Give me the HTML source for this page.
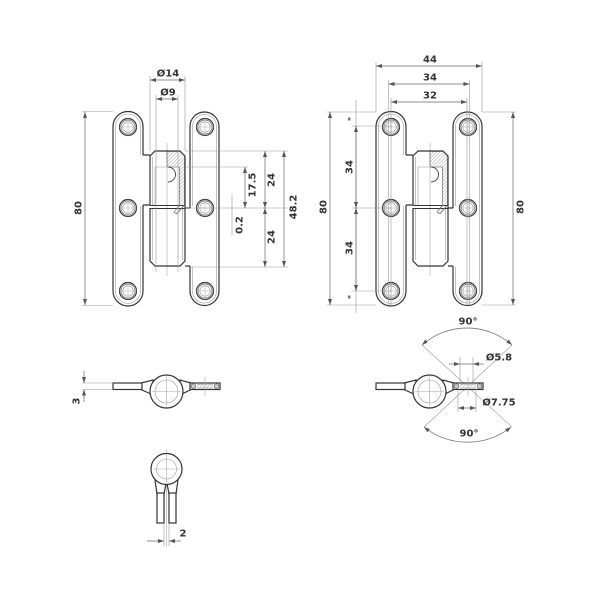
<!DOCTYPE html>
<html><head><meta charset="utf-8"><style>
html,body{margin:0;padding:0;background:#fff;}
svg{display:block;}
text{font-family:"DejaVu Sans","Liberation Sans",sans-serif;font-weight:bold;font-size:10px;fill:#333;}
.o{fill:none;stroke:#333;stroke-width:1.2;}
.ow{fill:#fff;stroke:#333;stroke-width:1.2;}
.i{fill:none;stroke:#999;stroke-width:0.6;}
.c{fill:none;stroke:#aaa;stroke-width:0.6;}
.d{fill:none;stroke:#666;stroke-width:0.7;}
.e{fill:none;stroke:#999;stroke-width:0.6;}
</style></head><body>
<svg width="600" height="600" viewBox="0 0 600 600" xmlns="http://www.w3.org/2000/svg">
<defs>
<marker id="a" viewBox="0 0 6 4" refX="6" refY="2" markerWidth="6" markerHeight="4" markerUnits="userSpaceOnUse" orient="auto-start-reverse"><path d="M0,0 L6,2 L0,4 Z" fill="#555"/></marker>
<pattern id="h" width="2.5" height="2.5" patternUnits="userSpaceOnUse" patternTransform="rotate(45)"><line x1="0" y1="0" x2="0" y2="2.5" stroke="#888" stroke-width="0.8"/></pattern>
<g id="hole">
<circle cx="0" cy="0" r="8.5" fill="#fff" stroke="#333" stroke-width="1.2"/>
<circle cx="0" cy="0" r="7" fill="none" stroke="#666" stroke-width="0.7"/>
<circle cx="0" cy="0" r="5.2" fill="none" stroke="#999" stroke-width="0.6"/>
<line x1="-9" y1="0" x2="9" y2="0" stroke="#aaa" stroke-width="0.5"/>
<line x1="0" y1="-9" x2="0" y2="9" stroke="#aaa" stroke-width="0.5"/>
</g>
<g id="hinge">
<line x1="167" y1="143" x2="167" y2="276" class="c"/>
<path d="M143,155 V126.5 A15,15 0 0 0 113,126.5 V291 A15,15 0 0 0 143,291 V205" class="o"/>
<path d="M140.5,155 V126.5 A12.5,12.5 0 0 0 115.5,126.5 V291 A12.5,12.5 0 0 0 140.5,291 V206" class="i"/>
<path d="M143,155 H150 M143,205 H150" class="o"/>
<path d="M190,208 V126.5 A14.5,14.5 0 0 1 219,126.5 V291 A14.5,14.5 0 0 1 190,291 V266" class="o"/>
<path d="M192.5,206 V126.5 A12,12 0 0 1 216.5,126.5 V291 A12,12 0 0 1 192.5,291 V267" class="i"/>
<path d="M185,208 H190 M185,266 H190" class="o"/>
<path d="M150,205 V156 L155,151 H180 L185,156 V208" class="o"/>
<path d="M152.5,205 V157" class="i"/>
<path d="M150,208 V261 L155,266 H180 L185,261 V208" class="o"/>
<path d="M152.5,209 V260 M182.5,209 V260" class="i"/>
<path d="M150,205.5 H185 M150,208.5 H185" class="o" style="stroke-width:0.9"/>
<path d="M167,151.5 H180 L184.5,156 V205 L177,214 L174,212 L179.5,205 V167 H167 Z" fill="url(#h)" stroke="#555" stroke-width="0.6"/>
<path d="M155,167 H168 M155,167 V205" class="i"/>
<path d="M168,167 A7.5,7.5 0 0 1 168,182" fill="#fff" stroke="#444" stroke-width="0.9"/>
<use href="#hole" x="128" y="127"/>
<use href="#hole" x="128" y="208"/>
<use href="#hole" x="128" y="291"/>
<use href="#hole" x="205" y="127"/>
<use href="#hole" x="205" y="208"/>
<use href="#hole" x="205" y="291"/>
</g>
<g id="top">
<polygon points="141,383 153,380 153,395 141,389.5" class="ow"/>
<rect x="113" y="383" width="29" height="6.5" class="ow"/>
<polygon points="191,383 180,380 180,395 191,389.5" class="ow"/>
<rect x="190" y="383" width="30" height="6.5" class="ow"/>
<rect x="197" y="384" width="16" height="4.5" fill="url(#h)" stroke="none"/>
<path d="M197,384.5 H213 M197,388 H213" class="i"/>
<circle cx="193.5" cy="386.2" r="2.4" fill="#ccc" stroke="#555" stroke-width="0.6"/>
<circle cx="216.5" cy="386.2" r="2.4" fill="#ccc" stroke="#555" stroke-width="0.6"/>
<line x1="205" y1="377" x2="205" y2="396" class="c"/>
<circle cx="166.5" cy="391.5" r="16.5" class="ow"/>
<circle cx="166.5" cy="391.5" r="11.5" class="i"/>
<line x1="152" y1="391.5" x2="181" y2="391.5" class="c"/>
<line x1="166.5" y1="377" x2="166.5" y2="406" class="c"/>
</g>
</defs>

<!-- hinges -->
<use href="#hinge"/>
<use href="#hinge" transform="translate(263,0)"/>

<!-- left hinge dims -->
<path d="M82,111.5 H113 M82,305.5 H113" class="e"/>
<path d="M150,76 V151 M185,76 V151" class="e"/>
<path d="M156,95 V272 M178,95 V272" class="e"/>
<path d="M185,151 H288 M185,167 H248 M185,208 H288 M190,267 H288" class="e"/>
<path d="M232,195 V235" class="e"/>
<line x1="85" y1="112" x2="85" y2="305" class="d" marker-start="url(#a)" marker-end="url(#a)"/>
<line x1="150" y1="80" x2="185" y2="80" class="d" marker-start="url(#a)" marker-end="url(#a)"/>
<line x1="156" y1="99" x2="178" y2="99" class="d" marker-start="url(#a)" marker-end="url(#a)"/>
<line x1="245" y1="167" x2="245" y2="208" class="d" marker-start="url(#a)" marker-end="url(#a)"/>
<line x1="265" y1="151" x2="265" y2="208" class="d" marker-start="url(#a)" marker-end="url(#a)"/>
<line x1="265" y1="208" x2="265" y2="267" class="d" marker-start="url(#a)" marker-end="url(#a)"/>
<line x1="284" y1="151" x2="284" y2="267" class="d" marker-start="url(#a)" marker-end="url(#a)"/>
<text x="168" y="74" text-anchor="middle" dominant-baseline="central">Ø14</text>
<text x="168" y="93" text-anchor="middle" dominant-baseline="central">Ø9</text>
<text x="79" y="208" text-anchor="middle" dominant-baseline="central" transform="rotate(-90 79 208)">80</text>
<text x="253" y="185" text-anchor="middle" dominant-baseline="central" transform="rotate(-90 253 185)">17.5</text>
<text x="240" y="225" text-anchor="middle" dominant-baseline="central" transform="rotate(-90 240 225)">0.2</text>
<text x="272" y="180" text-anchor="middle" dominant-baseline="central" transform="rotate(-90 272 180)">24</text>
<text x="272" y="237" text-anchor="middle" dominant-baseline="central" transform="rotate(-90 272 237)">24</text>
<text x="294" y="207" text-anchor="middle" dominant-baseline="central" transform="rotate(-90 294 207)">48.2</text>

<!-- right hinge dims -->
<path d="M376,62 V112 M482,62 V112" class="e"/>
<path d="M388.5,80 V305 M469.5,80 V305 M391,98 V305 M467,98 V305" class="e"/>
<path d="M327,112 H376 M327,305 H376" class="e"/>
<path d="M352,126 H391 M352,208 H391 M352,291 H391" class="e"/>
<path d="M356,100 V313" class="e"/>
<path d="M482,112 H516 M482,305 H516" class="e"/>
<line x1="376" y1="66" x2="482" y2="66" class="d" marker-start="url(#a)" marker-end="url(#a)"/>
<line x1="388.5" y1="84" x2="469.5" y2="84" class="d" marker-start="url(#a)" marker-end="url(#a)"/>
<line x1="391" y1="102" x2="467" y2="102" class="d" marker-start="url(#a)" marker-end="url(#a)"/>
<line x1="330" y1="112" x2="330" y2="305" class="d" marker-start="url(#a)" marker-end="url(#a)"/>
<line x1="356" y1="126" x2="356" y2="208" class="d" marker-start="url(#a)" marker-end="url(#a)"/>
<line x1="356" y1="208" x2="356" y2="291" class="d" marker-start="url(#a)" marker-end="url(#a)"/>
<line x1="513" y1="112" x2="513" y2="305" class="d" marker-start="url(#a)" marker-end="url(#a)"/>
<rect x="348" y="117.5" width="2.5" height="3" fill="#777"/>
<rect x="348" y="295.5" width="2.5" height="3" fill="#777"/>
<text x="430" y="60" text-anchor="middle" dominant-baseline="central">44</text>
<text x="430" y="78" text-anchor="middle" dominant-baseline="central">34</text>
<text x="430" y="96" text-anchor="middle" dominant-baseline="central">32</text>
<text x="324" y="207" text-anchor="middle" dominant-baseline="central" transform="rotate(-90 324 207)">80</text>
<text x="350" y="167" text-anchor="middle" dominant-baseline="central" transform="rotate(-90 350 167)">34</text>
<text x="350" y="248" text-anchor="middle" dominant-baseline="central" transform="rotate(-90 350 248)">34</text>
<text x="521" y="207" text-anchor="middle" dominant-baseline="central" transform="rotate(-90 521 207)">80</text>

<!-- right top view angle lines (behind) -->
<path d="M422,345 L512,427 M512,345 L424,427" class="e"/>
<path d="M422,345 A68,68 0 0 1 512,345" class="d" marker-start="url(#a)" marker-end="url(#a)"/>
<path d="M424,427 A70,70 0 0 0 511,427" class="d" marker-start="url(#a)" marker-end="url(#a)"/>

<!-- top views -->
<use href="#top"/>
<use href="#top" transform="translate(263,0)"/>

<!-- left top view "3" -->
<path d="M82,383 H113 M82,389.5 H113" class="e"/>
<line x1="84" y1="371" x2="84" y2="383" class="d" marker-end="url(#a)"/>
<line x1="84" y1="402" x2="84" y2="389.5" class="d" marker-end="url(#a)"/>
<text x="77" y="401" text-anchor="middle" dominant-baseline="central" transform="rotate(-90 77 401)">3</text>

<!-- right top view dims -->
<path d="M460,357 V383 M473,357 V383" class="e"/>
<line x1="449" y1="364" x2="460" y2="364" class="d" marker-end="url(#a)"/>
<line x1="484" y1="364" x2="473" y2="364" class="d" marker-end="url(#a)"/>
<line x1="460" y1="364" x2="473" y2="364" class="d"/>
<path d="M458,391 V412 M476,391 V412" class="e"/>
<line x1="458" y1="408" x2="476" y2="408" class="d" marker-start="url(#a)" marker-end="url(#a)"/>
<text x="499" y="358" text-anchor="middle" dominant-baseline="central">Ø5.8</text>
<text x="499" y="403" text-anchor="middle" dominant-baseline="central">Ø7.75</text>
<text x="468" y="322" text-anchor="middle" dominant-baseline="central">90°</text>
<text x="469" y="434" text-anchor="middle" dominant-baseline="central">90°</text>

<!-- bottom view -->
<line x1="166.5" y1="449" x2="166.5" y2="547" class="c"/>
<polygon points="155,480 166,483.5 164,494 157,494" class="ow"/>
<polygon points="167,483.5 178,480 176,494 169,494" class="ow"/>
<rect x="157" y="493" width="7" height="30" class="ow"/>
<rect x="169" y="493" width="7" height="30" class="ow"/>
<circle cx="166.5" cy="469" r="15.5" class="ow"/>
<circle cx="166.5" cy="469" r="10" class="i"/>
<line x1="153" y1="469" x2="180" y2="469" class="c"/>
<line x1="166.5" y1="455" x2="166.5" y2="483" class="c"/>
<path d="M164,524 V546 M169,524 V546" class="e"/>
<line x1="147" y1="541" x2="164" y2="541" class="d" marker-end="url(#a)"/>
<line x1="181" y1="541" x2="169" y2="541" class="d" marker-end="url(#a)"/>
<text x="183" y="534" text-anchor="middle" dominant-baseline="central">2</text>
</svg>
</body></html>
